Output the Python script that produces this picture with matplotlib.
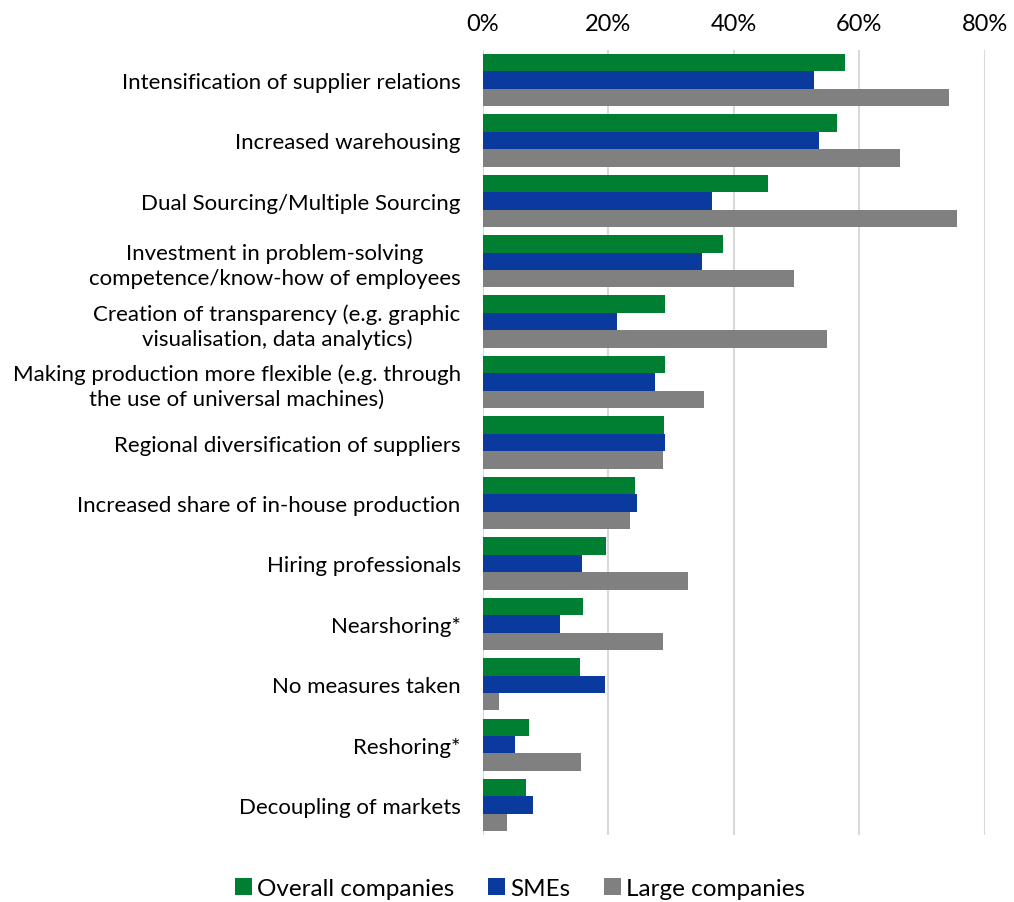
import numpy as np
import matplotlib as mpl
from matplotlib import pyplot as plt
from matplotlib.ticker import PercentFormatter

mpl.rcParams["font.family"] = ["Lato", "DejaVu Sans"]

measures = [
    "Intensification of supplier relations",
    "Increased warehousing",
    "Dual Sourcing/Multiple Sourcing",
    "Investment in problem-solving\ncompetence/know-how of employees",
    "Creation of transparency (e.g. graphic\nvisualisation, data analytics)",
    "Making production more flexible (e.g. through\nthe use of universal machines)",
    "Regional diversification of suppliers",
    "Increased share of in-house production",
    "Hiring professionals",
    "Nearshoring*",
    "No measures taken",
    "Reshoring*",
    "Decoupling of markets",
]
overall = [57.7, 56.5, 45.4, 38.2, 29.0, 29.0, 28.8, 24.2, 19.6, 15.9, 15.4, 7.4, 6.8]
smes = [52.8, 53.6, 36.5, 34.9, 21.4, 27.4, 29.0, 24.6, 15.8, 12.3, 19.4, 5.1, 7.9]
large = [74.3, 66.5, 75.6, 49.5, 54.8, 35.2, 28.7, 23.4, 32.6, 28.7, 2.6, 15.6, 3.9]

series = [("Overall companies", overall, "#007E31"),
          ("SMEs", smes, "#0A3A9E"),
          ("Large companies", large, "#808080")]

fig = plt.figure(figsize=(10.14, 9.03), dpi=100)
ax = fig.add_axes([0.4763, 0.0738, 0.495, 0.870])

y = np.arange(len(measures))
h = 0.289
for i, (name, vals, col) in enumerate(series):
    ax.barh(y + (i - 1) * h, vals, height=h, color=col, label=name)

ax.set_xlim(0, 80)
ax.set_ylim(len(measures) - 0.5, -0.5)
ax.set_xticks([0, 20, 40, 60, 80])
ax.xaxis.set_major_formatter(PercentFormatter(decimals=0))
ax.xaxis.tick_top()
ax.tick_params(axis="x", length=0, labelsize=17, pad=11)
ax.tick_params(axis="y", length=0, labelsize=16, pad=16)
ax.set_yticks(y)
ax.set_yticklabels(measures, multialignment="center", linespacing=1.3)
ax.grid(axis="x", color="#d9d9d9", linewidth=1.5)
ax.set_axisbelow(True)
for s in ax.spines.values():
    s.set_visible(False)

fig.legend(loc="lower center", bbox_to_anchor=(0.513, -0.021), ncol=3, frameon=False,
           fontsize=17.5, handlelength=0.7, handleheight=0.7, handletextpad=0.2,
           columnspacing=1.4)

fig.savefig("out.png", dpi=100)
